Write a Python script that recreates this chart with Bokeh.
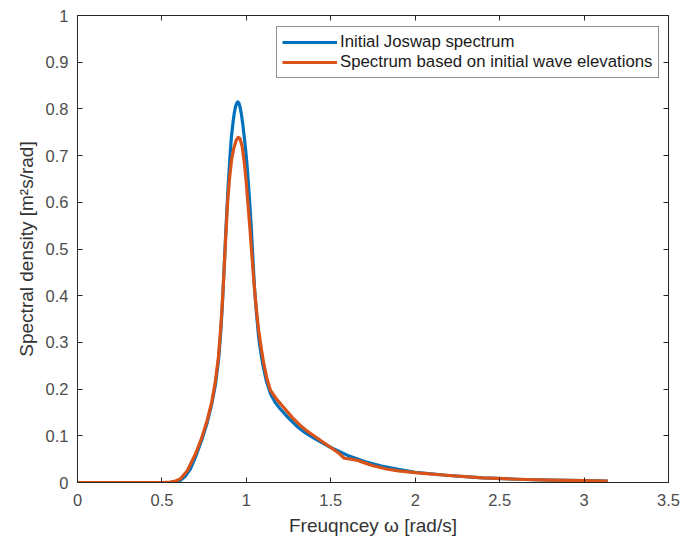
from bokeh.plotting import figure
from bokeh.models import LinearAxis, Range1d, Legend, LegendItem, FixedTicker
from bokeh.embed import file_html
from bokeh.resources import INLINE

# Initial JONSWAP spectrum
omega_j = [0.0, 0.5, 0.55, 0.58, 0.61, 0.64, 0.67, 0.70, 0.735, 0.768, 0.795, 0.817, 0.835,
           0.847, 0.855, 0.862, 0.871, 0.880, 0.891, 0.902, 0.911, 0.920, 0.928, 0.936, 0.943,
           0.949, 0.955, 0.962, 0.970, 0.978, 0.986, 0.995, 1.004, 1.016, 1.028, 1.038, 1.048,
           1.06, 1.073, 1.09, 1.103, 1.12, 1.143, 1.17, 1.2, 1.25, 1.3, 1.35, 1.4,
           1.5, 1.6, 1.7, 1.8, 1.9, 2.0, 2.2, 2.4, 2.6, 2.8, 3.0, 3.14]
spec_j = [0.0, 0.0, 0.0005, 0.002, 0.005, 0.014, 0.03, 0.056, 0.09, 0.128, 0.168, 0.21, 0.262,
          0.315, 0.362, 0.41, 0.48, 0.55, 0.628, 0.693, 0.738, 0.768, 0.79, 0.805, 0.812,
          0.815, 0.813, 0.805, 0.79, 0.77, 0.745, 0.715, 0.68, 0.62, 0.554, 0.485, 0.418,
          0.362, 0.31, 0.268, 0.243, 0.215, 0.19, 0.172, 0.158, 0.138, 0.12, 0.106, 0.095,
          0.075, 0.058, 0.045, 0.035, 0.028, 0.022, 0.015, 0.01, 0.007, 0.005, 0.004, 0.003]

# Spectrum based on initial wave elevations
omega_e = [0.0, 0.5, 0.55, 0.58, 0.61, 0.65, 0.70, 0.735, 0.768, 0.795, 0.817, 0.835, 0.847,
           0.857, 0.866, 0.877, 0.889, 0.900, 0.912, 0.925, 0.940, 0.952, 0.962, 0.975, 0.988,
           1.0, 1.011, 1.022, 1.033, 1.044, 1.058, 1.073, 1.09, 1.103, 1.12, 1.143, 1.18,
           1.22, 1.27, 1.32, 1.36, 1.4, 1.44, 1.5, 1.55, 1.58, 1.62, 1.66, 1.7, 1.75, 1.83,
           1.9, 2.03, 2.2, 2.4, 2.6, 2.8, 3.0, 3.14]
spec_e = [0.0, 0.0, 0.0008, 0.003, 0.008, 0.025, 0.062, 0.095, 0.133, 0.172, 0.218, 0.27, 0.325,
          0.38, 0.44, 0.52, 0.6, 0.65, 0.69, 0.715, 0.733, 0.739, 0.737, 0.72, 0.685,
          0.64, 0.59, 0.54, 0.485, 0.433, 0.375, 0.325, 0.283, 0.255, 0.225, 0.197, 0.178,
          0.161, 0.14, 0.122, 0.11, 0.1, 0.09, 0.075, 0.062, 0.052, 0.05, 0.047, 0.042, 0.036,
          0.029, 0.025, 0.02, 0.015, 0.01, 0.007, 0.005, 0.004, 0.003]

x_ticks = [0, 0.5, 1, 1.5, 2, 2.5, 3, 3.5]
y_ticks = [0, 0.1, 0.2, 0.3, 0.4, 0.5, 0.6, 0.7, 0.8, 0.9, 1.0]

labels = ["Initial Joswap spectrum", "Spectrum based on initial wave elevations"]

FONT = "Liberation Sans"
AX = "#262626"

p = figure(width=683, height=544, output_backend="svg", toolbar_location=None,
           x_range=Range1d(0, 3.5), y_range=Range1d(0, 1),
           min_border_left=77, min_border_right=15, min_border_top=15, min_border_bottom=62,
           frame_width=591, frame_height=467, x_axis_label="Freuqncey ω [rad/s]",
           y_axis_label="Spectral density [m²s/rad]")
p.background_fill_color = "white"
p.border_fill_color = "white"
p.outline_line_color = None
p.grid.visible = False

r1 = p.line(omega_j, spec_j, line_color="#0072BD", line_width=3.2, line_join="round")
r2 = p.line(omega_e, spec_e, line_color="#D95319", line_width=3.2, line_join="round")

def style(ax, show_labels=True):
    ax.axis_line_color = AX
    ax.major_tick_line_color = AX
    ax.minor_tick_line_color = None
    ax.major_tick_in = 5
    ax.major_tick_out = 0
    ax.major_label_text_font = FONT
    ax.major_label_text_font_size = "16.5px"
    ax.major_label_text_color = "#4d4d4d" if show_labels else None
    ax.axis_label_text_font = FONT
    ax.axis_label_text_font_size = "19px"
    ax.axis_label_text_font_style = "normal"
    ax.axis_label_text_color = "#333333"

p.xaxis.ticker = FixedTicker(ticks=x_ticks)
p.yaxis.ticker = FixedTicker(ticks=y_ticks)
style(p.xaxis[0])
style(p.yaxis[0])
p.xaxis[0].major_label_standoff = 11
p.xaxis[0].axis_label_standoff = 6
p.yaxis[0].major_label_standoff = 9
p.yaxis[0].axis_label_standoff = 6

top = LinearAxis(ticker=FixedTicker(ticks=x_ticks))
right = LinearAxis(ticker=FixedTicker(ticks=y_ticks))
style(top, False)
style(right, False)
top.major_label_text_font_size = "0px"
right.major_label_text_font_size = "0px"
p.add_layout(top, "above")
p.add_layout(right, "right")

legend = Legend(items=[LegendItem(label=labels[0], renderers=[r1]),
                       LegendItem(label=labels[1], renderers=[r2])],
                location=(199, 404))
legend.label_text_font = FONT
legend.label_text_font_size = "16.8px"
legend.label_text_color = "#1a1a1a"
legend.glyph_width = 55
legend.glyph_height = 20
legend.label_height = 20
legend.spacing = 0
legend.padding = 5
legend.margin = 0
legend.label_standoff = 3
legend.border_line_color = AX
legend.border_line_width = 1
legend.background_fill_color = "white"
legend.background_fill_alpha = 1
p.add_layout(legend, "center")

open("out.html", "w").write(file_html(p, INLINE))
